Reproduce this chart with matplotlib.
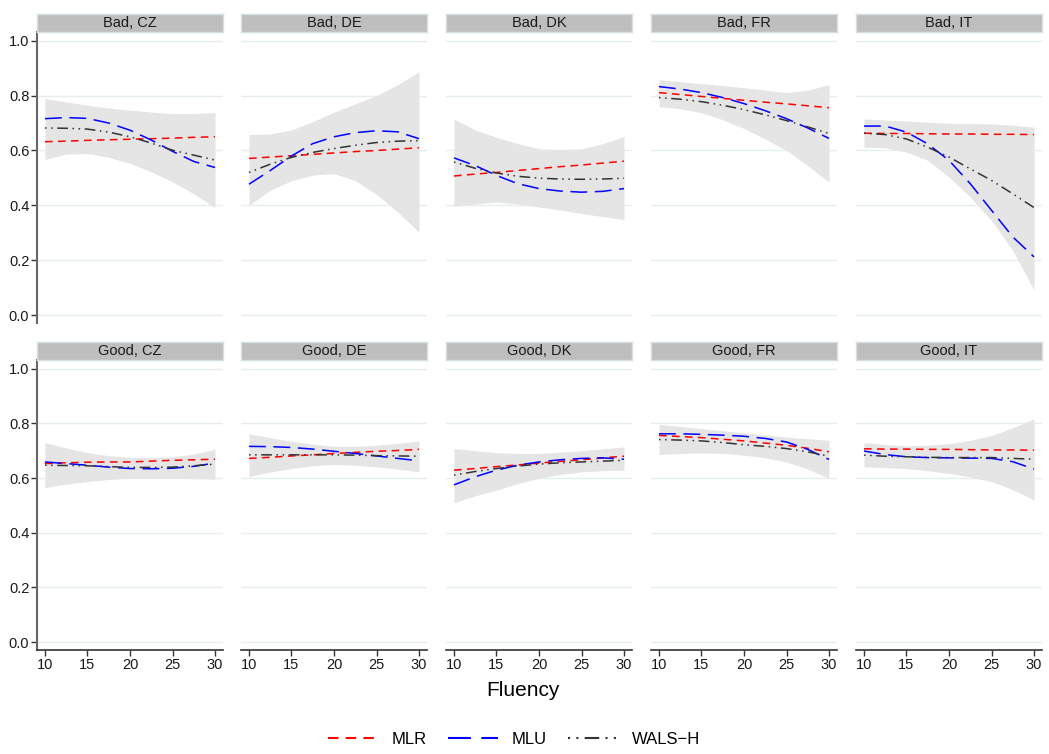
import matplotlib
matplotlib.use("Agg")
import matplotlib.pyplot as plt
import numpy as np

plt.rcParams['font.family'] = ['Liberation Sans', 'DejaVu Sans']

fluency = [10, 12.5, 15, 17.5, 20, 22.5, 25, 27.5, 30]
countries = ["CZ", "DE", "DK", "FR", "IT"]
conditions = ["Bad", "Good"]

# confidence band (upper / lower), one row per country
hi_bad = [
    [.790, .777, .765, .755, .747, .740, .735, .735, .738],
    [.658, .660, .675, .705, .740, .770, .800, .840, .887],
    [.715, .675, .648, .625, .606, .602, .606, .625, .651],
    [.858, .851, .844, .837, .829, .820, .811, .820, .840],
    [.715, .711, .707, .703, .699, .698, .697, .692, .685],
]
lo_bad = [
    [.567, .587, .589, .575, .553, .522, .486, .442, .392],
    [.400, .455, .490, .510, .516, .490, .440, .375, .302],
    [.396, .405, .412, .405, .394, .383, .370, .359, .348],
    [.760, .752, .738, .712, .680, .642, .600, .545, .484],
    [.612, .610, .594, .564, .503, .430, .345, .236, .091],
]
mlr_bad = [
    [.632, .634, .637, .639, .641, .643, .645, .648, .650],
    [.571, .576, .581, .586, .591, .596, .600, .605, .610],
    [.507, .514, .520, .527, .534, .541, .547, .554, .561],
    [.811, .804, .797, .790, .783, .776, .770, .763, .756],
    [.663, .662, .662, .661, .660, .660, .659, .659, .658],
]
mlu_bad = [
    [.716, .720, .717, .700, .674, .638, .597, .560, .538],
    [.477, .527, .580, .625, .650, .665, .672, .668, .643],
    [.573, .545, .509, .479, .461, .452, .448, .451, .461],
    [.833, .824, .811, .793, .771, .745, .716, .682, .644],
    [.689, .689, .667, .624, .564, .479, .382, .285, .212],
]
wals_bad = [
    [.682, .681, .678, .667, .650, .627, .601, .583, .565],
    [.520, .550, .575, .593, .607, .619, .629, .634, .636],
    [.558, .535, .518, .506, .499, .496, .495, .496, .499],
    [.793, .787, .778, .765, .749, .730, .709, .686, .662],
    [.663, .658, .642, .612, .576, .533, .491, .442, .392],
]

hi_good = [
    [.730, .710, .693, .682, .675, .675, .678, .688, .705],
    [.762, .748, .735, .724, .716, .716, .720, .727, .735],
    [.708, .700, .693, .690, .690, .695, .700, .707, .714],
    [.796, .789, .781, .773, .765, .758, .750, .744, .738],
    [.730, .723, .718, .720, .726, .738, .756, .784, .817],
]
lo_good = [
    [.565, .578, .587, .595, .600, .600, .600, .598, .596],
    [.605, .622, .635, .645, .650, .647, .641, .633, .623],
    [.510, .535, .556, .580, .599, .613, .623, .627, .629],
    [.686, .690, .692, .690, .684, .674, .659, .633, .599],
    [.641, .638, .635, .627, .617, .604, .587, .558, .520],
]
mlr_good = [
    [.653, .656, .658, .659, .659, .662, .665, .667, .669],
    [.672, .676, .681, .685, .690, .694, .698, .701, .705],
    [.629, .635, .642, .648, .655, .661, .667, .674, .680],
    [.756, .752, .748, .742, .736, .728, .720, .709, .696],
    [.707, .706, .706, .705, .705, .704, .703, .703, .702],
]
mlu_good = [
    [.659, .653, .647, .640, .635, .634, .636, .643, .655],
    [.716, .715, .712, .706, .698, .690, .681, .672, .663],
    [.575, .605, .629, .647, .659, .667, .672, .674, .669],
    [.762, .762, .760, .757, .753, .745, .732, .705, .668],
    [.699, .686, .678, .675, .674, .673, .672, .660, .633],
]
wals_good = [
    [.647, .646, .645, .642, .639, .639, .640, .645, .651],
    [.685, .685, .685, .685, .685, .684, .682, .681, .680],
    [.611, .624, .635, .644, .651, .656, .659, .662, .665],
    [.741, .739, .736, .730, .722, .716, .708, .696, .680],
    [.684, .680, .678, .676, .675, .675, .675, .672, .669],
]

bands = {"Bad": (lo_bad, hi_bad), "Good": (lo_good, hi_good)}
series = {"Bad": (mlr_bad, mlu_bad, wals_bad), "Good": (mlr_good, mlu_good, wals_good)}

W, H = 1049, 754
fig = plt.figure(figsize=(W / 100, H / 100), dpi=100)

col_left = [37, 241, 446, 651, 856]
pw = 186
rows = [(14, 32, 323), (342, 360, 650)]  # strip top, plot top, plot bottom

styles = [
    dict(color="red", dashes=(5, 3.5), label="MLR"),
    dict(color="blue", dashes=(11, 5), label="MLU"),
    dict(color="#333333", dashes=(1, 3, 1, 3, 7, 3), label="WALS\u2212H"),
]

for r, cond in enumerate(conditions):
    st, pt, pb = rows[r]
    lo, hi = bands[cond]
    for c, ctry in enumerate(countries):
        x0 = col_left[c]
        ax = fig.add_axes([x0 / W, 1 - pb / H, pw / W, (pb - pt) / H])
        ax.fill_between(fluency, lo[c], hi[c], color="#e5e5e5", lw=0)
        for s, data in zip(styles, series[cond]):
            ax.plot(fluency, data[c], lw=1.1, **s)
        ax.set_xlim(9.06, 30.94)
        ax.set_ylim(-0.029, 1.032)
        ax.set_yticks([0, 0.2, 0.4, 0.6, 0.8, 1.0])
        ax.set_xticks([10, 15, 20, 25, 30])
        ax.grid(axis="y", color="#e6edf0", lw=1)
        ax.set_axisbelow(True)
        for sp in ax.spines.values():
            sp.set_visible(False)
        ax.tick_params(length=4, width=1, color="#333333", labelsize=10.5,
                       labelcolor="#1a1a1a", pad=1.5)
        if c == 0:
            ax.spines["left"].set_visible(True)
            ax.spines["left"].set_color("#666666")
            ax.spines["left"].set_linewidth(1.5)
            ax.set_yticklabels(["0.0", "0.2", "0.4", "0.6", "0.8", "1.0"])
        else:
            ax.tick_params(axis="y", left=False, labelleft=False)
        if r == 1:
            ax.spines["bottom"].set_visible(True)
            ax.spines["bottom"].set_color("#333333")
            ax.spines["bottom"].set_linewidth(1.2)
        else:
            ax.tick_params(axis="x", bottom=False, labelbottom=False)

        sax = fig.add_axes([x0 / W, 1 - pt / H, pw / W, (pt - st) / H])
        sax.set_facecolor("#bebebe")
        sax.set_xticks([])
        sax.set_yticks([])
        for sp in sax.spines.values():
            sp.set_color("#d5e0e4")
            sp.set_linewidth(1)
        sax.text(0.5, 0.5, f"{cond}, {ctry}", ha="center", va="center",
                 fontsize=10.5, color="#1a1a1a", transform=sax.transAxes)

fig.text(523 / W, 1 - 691 / H, "Fluency", ha="center", va="center", fontsize=15)

handles = [plt.Line2D([], [], lw=1.5, **s) for s in styles]
fig.legend(handles=handles, loc="center", bbox_to_anchor=(514 / W, 1 - 739 / H),
           ncol=3, frameon=False, fontsize=12, handlelength=3.0,
           columnspacing=1.3, handletextpad=0.8)

fig.savefig("out.png", dpi=100)
